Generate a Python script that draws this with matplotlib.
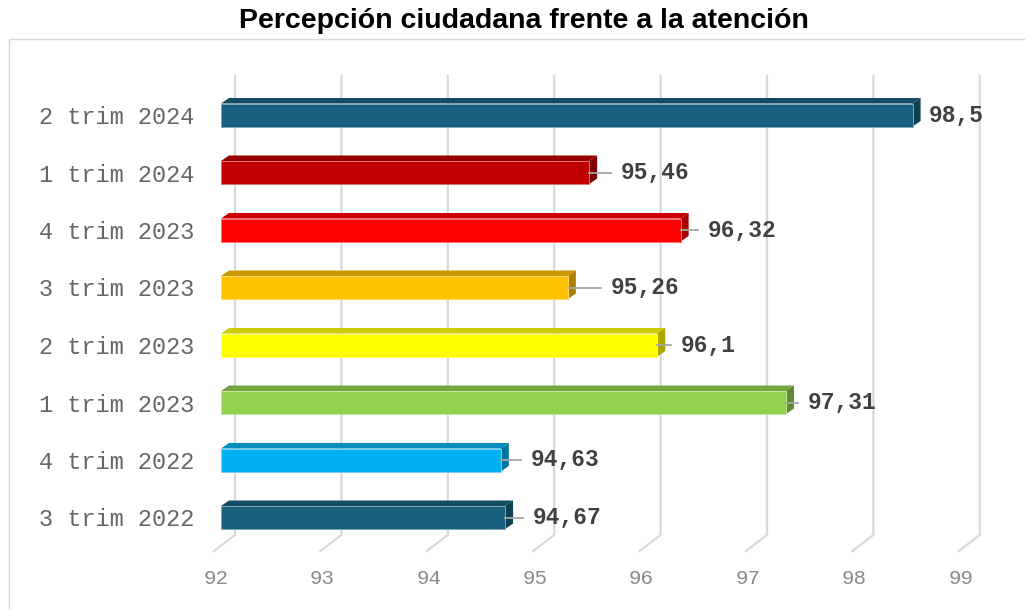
import matplotlib
matplotlib.use("Agg")
import matplotlib.pyplot as plt
from matplotlib.patches import Polygon, Rectangle
from matplotlib.colors import to_rgb

# ---- data ----
categories = ["3 trim 2022", "4 trim 2022", "1 trim 2023", "2 trim 2023",
              "3 trim 2023", "4 trim 2023", "1 trim 2024", "2 trim 2024"]
values = [94.67, 94.63, 97.31, 96.1, 95.26, 96.32, 95.46, 98.5]
bar_colors = ["#17607E", "#00B0F0", "#92D050", "#FFFF00",
              "#FFC000", "#FF0000", "#C00000", "#17607E"]
x_ticks = [92, 93, 94, 95, 96, 97, 98, 99]
title = "Percepción ciudadana frente a la atención"

# distance (px) from the end of each bar to its value label
label_gap_px = [28, 30, 22, 24, 43, 27, 32, 16]

# ---- layout ----
W, H, DPI = 1025, 610, 100
UX = 106.4          # pixels per unit on the value axis
UY = 57.5           # pixels per category
X_ORIGIN_PX = 221   # pixel column of the axis minimum (front plane)
Y0_PX = 92.5        # pixel row (from bottom) of the first category

fig = plt.figure(figsize=(W / DPI, H / DPI), dpi=DPI)
ax = fig.add_axes([0, 0, 1, 1])
xmin = x_ticks[0]
ax.set_xlim(xmin - X_ORIGIN_PX / UX, xmin + (W - X_ORIGIN_PX) / UX)
ax.set_ylim(-Y0_PX / UY, (H - Y0_PX) / UY)
ax.axis("off")


def dxp(px):
    return px / UX


def dyp(px):
    return px / UY


def yrow(px_from_top):
    return (H - px_from_top - Y0_PX) / UY


def shade(c, f):
    r, g, b = to_rgb(c)
    return (r * f, g * f, b * f)


def tint(c, f):
    r, g, b = to_rgb(c)
    return (r + (1 - r) * f, g + (1 - g) * f, b + (1 - b) * f)


# chart area frame
fig.patches.append(Rectangle((9 / W, -0.02), 1.05, (H - 39) / H + 0.02,
                             transform=fig.transFigure, fill=False,
                             edgecolor="#D9D9D9", linewidth=1.0))

# 3D gridlines: back wall + floor
grid_back = dxp(14)
grid_front = dxp(-7)
y_top = yrow(76)
y_wall = yrow(535)
y_floor = yrow(551)
for v in x_ticks:
    ax.plot([v + grid_back, v + grid_back, v + grid_front],
            [y_top, y_wall, y_floor], color="#D9D9D9", lw=1.6,
            solid_joinstyle="miter", zorder=1)
    ax.text(v + grid_front + dxp(2), yrow(578), str(v), ha="center",
            va="center", fontsize=15, family="Liberation Mono",
            color="#8A8A8A")

# 3D bars
half = dyp(11.5)
ddx, ddy = dxp(8), dyp(5.5)
for i, (cat, v, c) in enumerate(zip(categories, values, bar_colors)):
    x0, x1 = xmin, v
    yb, yt = i - half, i + half
    top = Polygon([(x0, yt), (x1, yt), (x1 + ddx, yt + ddy), (x0 + ddx, yt + ddy)],
                  closed=True, facecolor=shade(c, 0.8), edgecolor="none", zorder=3)
    side = Polygon([(x1, yb), (x1, yt), (x1 + ddx, yt + ddy), (x1 + ddx, yb + ddy)],
                   closed=True, facecolor=shade(c, 0.66), edgecolor="none", zorder=3)
    ax.add_patch(top)
    ax.add_patch(side)
    ax.barh(i, x1 - x0, left=x0, height=2 * half, color=c,
            edgecolor=tint(c, 0.45), linewidth=0.7, zorder=4)

    # category label
    ax.text(xmin - dxp(27), i - dyp(2.5), cat, ha="right", va="center",
            fontsize=17, family="Liberation Mono", color="#666666")

    # value label with leader line
    gap = label_gap_px[i]
    lx = v + dxp(gap)
    if gap > 18:
        ax.plot([v, lx - dxp(10)], [i, i], color="#A6A6A6", lw=1.3, zorder=5)
    ax.text(lx, i, f"{v:g}".replace(".", ","), ha="left", va="center",
            fontsize=16.5, family="Liberation Mono", fontweight="bold",
            color="#404040", zorder=6)

fig.text(523.5 / W, (H - 28) / H, title, ha="center", va="baseline",
         fontsize=20.5, family="Liberation Sans", fontweight="bold",
         color="#000000")

fig.savefig("out.png", dpi=DPI)
